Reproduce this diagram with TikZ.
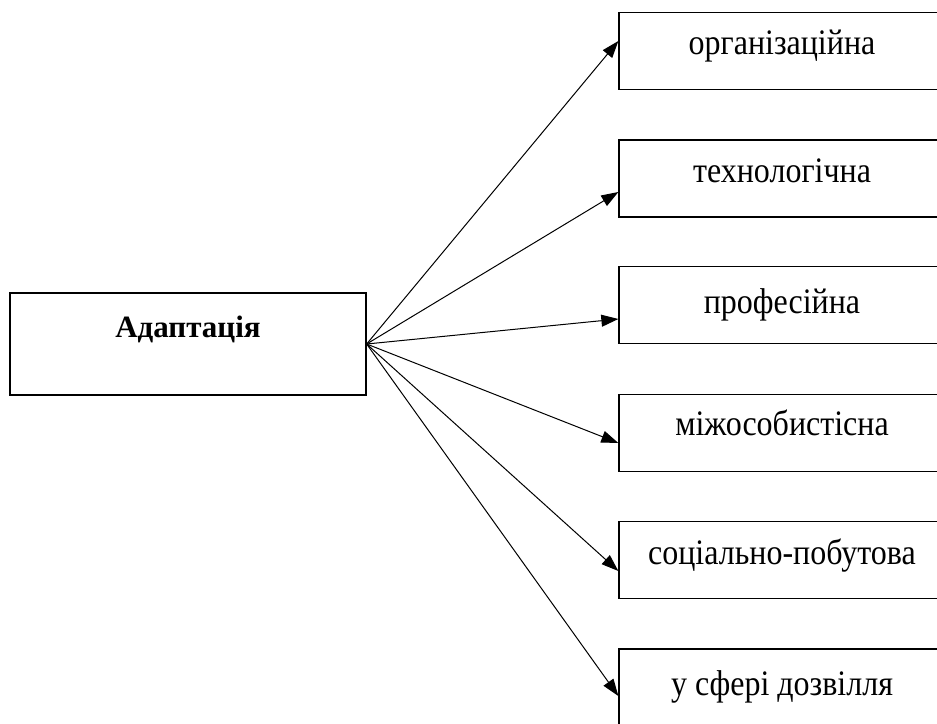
\documentclass[tikz,border=0pt]{standalone}
\usepackage{fontspec}
\setmainfont{Liberation Serif}
\usetikzlibrary{arrows.meta}
\tikzset{
  box/.style={draw, line width=1.3pt, rectangle, inner sep=0pt},
  rbox/.style={box, minimum width=326pt, minimum height=77pt},
  lab/.style={inner sep=0pt, anchor=base, font=\fontsize{32}{36}\selectfont},
  conn/.style={line width=1pt, -{Triangle[length=17pt,width=12pt]}}
}
\newcommand{\tallt}[1]{\scalebox{1}[1.12]{#1}}
\begin{document}
\begin{tikzpicture}[x=1pt,y=-1pt]
\useasboundingbox (0,0) rectangle (937,723);
\node[box, minimum width=356pt, minimum height=102pt] (a) at (188,344) {};
\node[lab, font=\fontsize{31}{36}\selectfont\bfseries] (at) at (188,337) {Адаптація};

\node[rbox] (b1) at (782,51) {};
\node[rbox] (b2) at (782,178.5) {};
\node[rbox] (b3) at (782,305) {};
\node[rbox] (b4) at (782,433) {};
\node[rbox] (b5) at (782,560) {};
\node[rbox] (b6) at (782,687.5) {};

\node[lab] (t1) at (782,54) {\tallt{організаційна}};
\node[lab] (t2) at (782,182) {\tallt{технологічна}};
\node[lab] (t3) at (782,313) {\tallt{професійна}};
\node[lab] (t4) at (782,435) {\tallt{міжособистісна}};
\node[lab] (t5) at (782,564) {\tallt{соціально-побутова}};
\node[lab] (t6) at (782,695) {\tallt{у сфері дозвілля}};

\draw[conn] (a.east) -- ([yshift=10pt]b1.west);
\draw[conn] (a.east) -- ([yshift=-13.5pt]b2.west);
\draw[conn] (a.east) -- ([yshift=-14pt]b3.west);
\draw[conn] (a.east) -- ([yshift=-10pt]b4.west);
\draw[conn] (a.east) -- ([yshift=-11pt]b5.west);
\draw[conn] (a.east) -- ([yshift=-8.5pt]b6.west);
\end{tikzpicture}
\end{document}
